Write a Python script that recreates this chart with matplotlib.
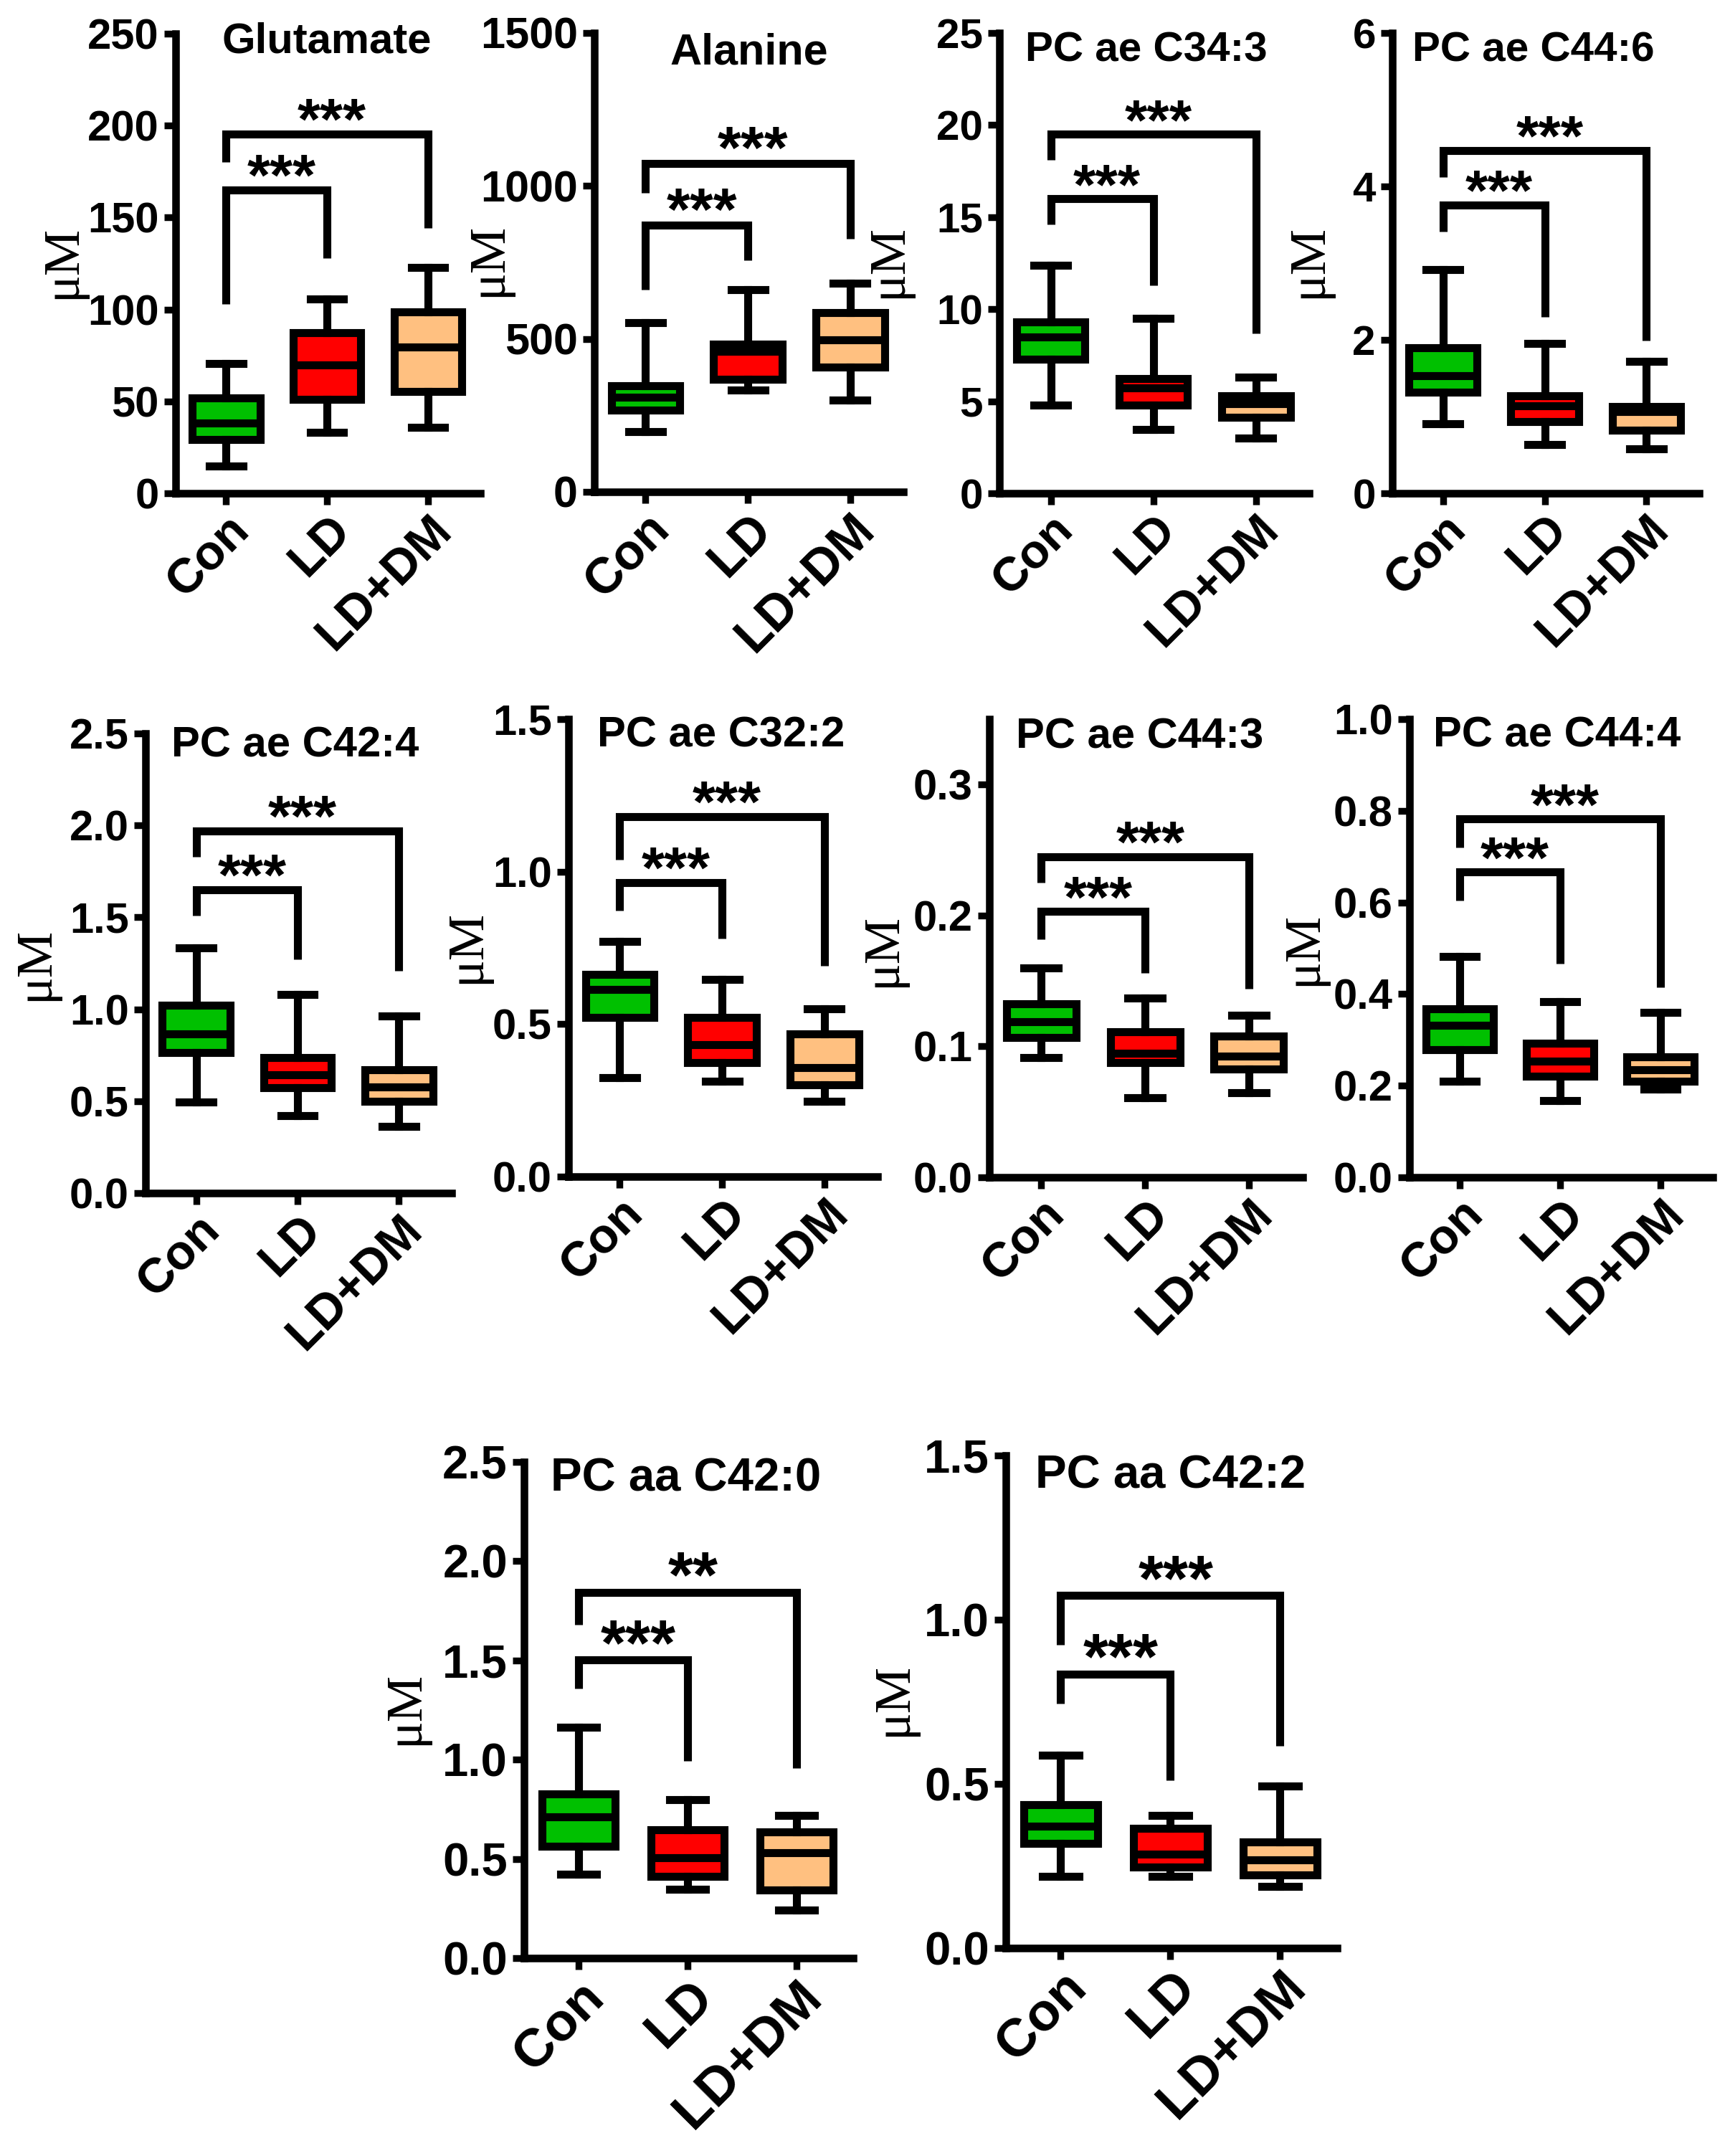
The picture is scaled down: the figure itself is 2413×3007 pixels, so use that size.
import matplotlib
matplotlib.use("Agg")
import matplotlib.pyplot as plt
from matplotlib.ticker import FormatStrFormatter
from matplotlib.transforms import ScaledTranslation

W, H, DPI = 2413, 3007, 200

groups = ["Con", "LD", "LD+DM"]
box_colors = ["#00c000", "#ff0000", "#ffc080"]

# five-number summaries per group: [whisker low, Q1, median, Q3, whisker high]
glutamate = [[15, 29.4, 38.4, 51.7, 70.6], [33.2, 51.2, 69.9, 87.2, 105.7], [36, 55.5, 79.4, 98.6, 123]]
alanine = [[197, 268, 309, 347, 552], [333, 368, 459, 482, 661], [301, 408, 496, 586, 683]]
pc_ae_c34_3 = [[4.8, 7.3, 8.5, 9.3, 12.4], [3.45, 4.78, 5.73, 6.23, 9.5], [3.0, 4.12, 4.88, 5.31, 6.3]]
pc_ae_c44_6 = [[0.91, 1.32, 1.53, 1.90, 2.92], [0.64, 0.93, 1.14, 1.27, 1.95], [0.58, 0.82, 1.07, 1.13, 1.72]]
pc_ae_c42_4 = [[0.496, 0.766, 0.867, 1.02, 1.335], [0.42, 0.574, 0.643, 0.738, 1.079], [0.362, 0.501, 0.579, 0.672, 0.962]]
pc_ae_c32_2 = [[0.325, 0.523, 0.613, 0.664, 0.771], [0.313, 0.373, 0.433, 0.521, 0.647], [0.246, 0.302, 0.358, 0.467, 0.55]]
pc_ae_c44_3 = [[0.0915, 0.107, 0.119, 0.1327, 0.160], [0.061, 0.0877, 0.095, 0.111, 0.137], [0.0647, 0.0827, 0.0923, 0.1077, 0.124]]
pc_ae_c44_4 = [[0.21, 0.278, 0.332, 0.368, 0.482], [0.168, 0.221, 0.253, 0.292, 0.384], [0.192, 0.21, 0.234, 0.263, 0.36]]
pc_aa_c42_0 = [[0.421, 0.562, 0.713, 0.827, 1.163], [0.348, 0.411, 0.506, 0.645, 0.798], [0.243, 0.343, 0.53, 0.637, 0.718]]
pc_aa_c42_2 = [[0.218, 0.318, 0.372, 0.437, 0.588], [0.218, 0.247, 0.286, 0.365, 0.404], [0.188, 0.222, 0.269, 0.324, 0.493]]

# brackets: (bar level, foot over Con, foot over other group, stars); Con-LD then Con-LD+DM
glutamate_sig = [(165, 103, 128, "***"), (195.5, 180, 144.5, "***")]
alanine_sig = [(873, 661, 758, "***"), (1073, 978, 828, "***")]
pc_ae_c34_3_sig = [(16.0, 14.6, 11.3, "***"), (19.5, 18.1, 8.7, "***")]
pc_ae_c44_6_sig = [(3.76, 3.41, 2.30, "***"), (4.47, 4.12, 1.99, "***")]
pc_ae_c42_4_sig = [(1.65, 1.51, 1.27, "***"), (1.97, 1.83, 1.21, "***")]
pc_ae_c32_2_sig = [(0.965, 0.873, 0.781, "***"), (1.18, 1.04, 0.691, "***")]
pc_ae_c44_3_sig = [(0.203, 0.182, 0.156, "***"), (0.245, 0.225, 0.144, "***")]
pc_ae_c44_4_sig = [(0.666, 0.604, 0.467, "***"), (0.782, 0.72, 0.415, "***")]
pc_aa_c42_0_sig = [(1.504, 1.358, 0.993, "***"), (1.844, 1.679, 0.956, "**")]
pc_aa_c42_2_sig = [(0.835, 0.744, 0.512, "***"), (1.074, 0.924, 0.615, "***")]

titles = ["Glutamate", "Alanine", "PC ae C34:3", "PC ae C44:6", "PC ae C42:4",
          "PC ae C32:2", "PC ae C44:3", "PC ae C44:4", "PC aa C42:0", "PC aa C42:2"]
y_max = [250, 1500, 25, 6, 2.5, 1.5, 0.35, 1.0, 2.5, 1.5]
y_ticks = [[0, 50, 100, 150, 200, 250], [0, 500, 1000, 1500], [0, 5, 10, 15, 20, 25], [0, 2, 4, 6],
           [0, 0.5, 1.0, 1.5, 2.0, 2.5], [0, 0.5, 1.0, 1.5], [0, 0.1, 0.2, 0.3],
           [0, 0.2, 0.4, 0.6, 0.8, 1.0], [0, 0.5, 1.0, 1.5, 2.0, 2.5], [0, 0.5, 1.0, 1.5]]
y_fmt = ["%d"] * 4 + ["%.1f"] * 6

panels = [glutamate, alanine, pc_ae_c34_3, pc_ae_c44_6, pc_ae_c42_4,
          pc_ae_c32_2, pc_ae_c44_3, pc_ae_c44_4, pc_aa_c42_0, pc_aa_c42_2]
sigs = [glutamate_sig, alanine_sig, pc_ae_c34_3_sig, pc_ae_c44_6_sig, pc_ae_c42_4_sig,
        pc_ae_c32_2_sig, pc_ae_c44_3_sig, pc_ae_c44_4_sig, pc_aa_c42_0_sig, pc_aa_c42_2_sig]

# layout in pixels: axes box (left, right, top, bottom), title (left, baseline), uM label centre
ax_px = [(245, 670, 47, 688), (829, 1260, 46, 686), (1394, 1826, 46, 688), (1942, 2370, 46, 688),
         (203, 630, 1023, 1664), (793, 1224, 1003, 1641), (1380, 1817, 1003, 1642), (1966, 2389, 1003, 1642),
         (731, 1190, 2039, 2731), (1403, 1865, 2030, 2717)]
title_px = [(310, 73), (934, 90), (1430, 85), (1970, 85), (239, 1056), (833, 1041), (1417, 1044),
            (1999, 1041), (768, 2080), (1444, 2075)]
ylab_px = [(88, 365), (682, 362), (1240, 364), (1826, 364), (50, 1344), (652, 1320), (1232, 1325),
           (1819, 1323), (566, 2382), (1247, 2370)]
fs = [21.5, 22, 21, 21, 21.5, 21.5, 21.5, 21.5, 23.5, 23.5]

plt.rcParams["font.family"] = ["Liberation Sans", "DejaVu Sans"]
plt.rcParams["font.weight"] = "bold"
LW = 4.0

fig = plt.figure(figsize=(W / DPI, H / DPI), dpi=DPI)
shift = ScaledTranslation(-3 / 72, 0, fig.dpi_scale_trans)   # nudge rotated group labels left

for i, data in enumerate(panels):
    L, R, T, B = ax_px[i]
    ax = fig.add_axes([L / W, 1 - B / H, (R - L) / W, (B - T) / H])
    stats = [dict(whislo=d[0], q1=d[1], med=d[2], q3=d[3], whishi=d[4], fliers=[], label=g)
             for d, g in zip(data, groups)]
    art = ax.bxp(stats, positions=[0, 1, 2], widths=0.67, capwidths=0.33, patch_artist=True,
                 showfliers=False,
                 boxprops=dict(linewidth=LW, edgecolor="black"),
                 whiskerprops=dict(linewidth=LW, color="black"),
                 capprops=dict(linewidth=LW, color="black"),
                 medianprops=dict(linewidth=LW, color="black"))
    for patch, c in zip(art["boxes"], box_colors):
        patch.set_facecolor(c)

    for k, (yb, foot0, foot1, stars) in enumerate(sigs[i]):
        x1 = k + 1
        ax.plot([0, 0, x1, x1], [foot0, yb, yb, foot1], color="black", lw=LW,
                solid_joinstyle="miter", solid_capstyle="butt", clip_on=False)
        ax.annotate(stars, xy=(x1 / 2 + 0.05, yb), xytext=(0, -2.5), textcoords="offset points",
                    ha="center", va="baseline", fontsize=fs[i] * 1.38, fontweight="bold")

    ax.set_xlim(-0.5, 2.52)
    ax.set_ylim(0, y_max[i])
    ax.set_yticks(y_ticks[i])
    ax.yaxis.set_major_formatter(FormatStrFormatter(y_fmt[i]))
    ax.set_xticks([0, 1, 2])
    ax.set_xticklabels(groups, rotation=45, ha="right", va="top", rotation_mode="anchor",
                       fontsize=fs[i] * 1.14, fontweight="bold")
    for lab in ax.get_xticklabels():
        lab.set_transform(lab.get_transform() + shift)
    for sp in ("top", "right"):
        ax.spines[sp].set_visible(False)
    for sp in ("left", "bottom"):
        ax.spines[sp].set_linewidth(LW * 0.95)
    ax.tick_params(axis="both", length=5.8, width=3.4)
    ax.tick_params(axis="y", pad=2.5, labelsize=fs[i])
    ax.tick_params(axis="x", pad=1.0)
    for lab in ax.get_yticklabels():
        lab.set_fontweight("bold")

    tx, ty = title_px[i]
    fig.text(tx / W, 1 - ty / H, titles[i], ha="left", va="baseline", fontsize=fs[i], fontweight="bold")
    lx, ly = ylab_px[i]
    fig.text(lx / W, 1 - ly / H, "μM", rotation=90, ha="center", va="center", fontsize=26,
             family="Liberation Serif", fontweight="normal")

fig.savefig("out.png", dpi=DPI, facecolor="white")
